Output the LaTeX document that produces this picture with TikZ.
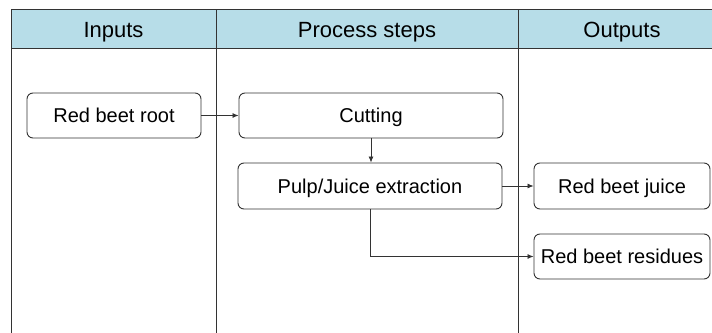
\documentclass[tikz,border=0pt]{standalone}
\usepackage{fontspec}
\setmainfont{Liberation Sans}
\usetikzlibrary{arrows.meta}
\definecolor{headfill}{HTML}{B7DDE8}
\definecolor{rule}{HTML}{333333}
\tikzset{
  lane/.style={draw=rule, line width=0.9pt},
  stepbox/.style={draw=rule, line width=0.9pt, rounded corners=6pt, inner sep=2pt,
    font=\fontsize{20}{24}\selectfont, align=center,
    text height=14.3pt, text depth=0pt},
  flow/.style={draw=rule, line width=0.8pt, -{Latex[length=6pt,width=5pt]}},
  headtext/.style={font=\fontsize{22}{26}\selectfont, text height=15.8pt, text depth=0pt}
}
\begin{document}
\begin{tikzpicture}[x=1pt,y=-1pt]
  \useasboundingbox (0,0) rectangle (712,332);
  % swim-lane header band and column rules
  \fill[headfill] (11,9) rectangle (740,48);
  \draw[lane] (740,9) -- (11,9) -- (11,340);
  \draw[lane] (11,48) -- (740,48);
  \draw[lane] (216.5,9) -- (216.5,340);
  \draw[lane] (518,9) -- (518,340);
  \node[headtext] (hin)  at (113.5,29.3) {Inputs};
  \node[headtext] (hpro) at (367,29.3) {Process steps};
  \node[headtext] (hout) at (622,29.3) {Outputs};
  % process boxes
  \node[stepbox, minimum width=174pt, minimum height=45pt] (root) at (114,115.5) {Red beet root};
  \node[stepbox, minimum width=264pt, minimum height=45pt] (cut) at (371,115.5) {Cutting};
  \node[stepbox, minimum width=264pt, minimum height=46pt] (pulp) at (370,186) {Pulp/Juice extraction};
  \node[stepbox, minimum width=176pt, minimum height=46pt] (juice) at (622,186) {Red beet juice};
  \node[stepbox, minimum width=176pt, minimum height=45pt] (res) at (622,256.5) {Red beet residues};
  % connectors
  \draw[flow] (root.east) -- (cut.west);
  \draw[flow] (cut.south) -- (cut.south |- pulp.north);
  \draw[flow] (pulp.east) -- (juice.west);
  \draw[flow] (pulp.south) -- (pulp.south |- res.west) -- (res.west);
\end{tikzpicture}
\end{document}
